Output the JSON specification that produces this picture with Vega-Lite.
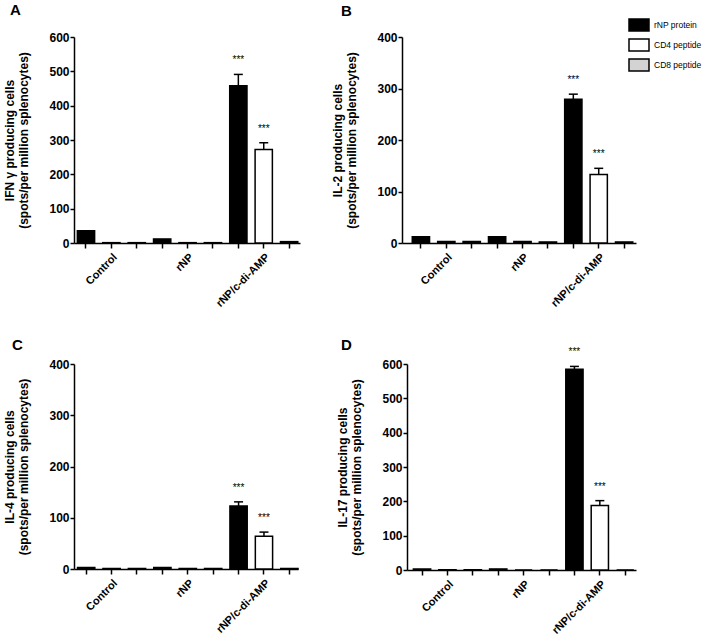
{
  "$schema": "https://vega.github.io/schema/vega-lite/v6.json",
  "padding": {"left": 3, "top": 3, "right": 5, "bottom": 0},
  "background": "white",
  "config": {
    "view": {"stroke": null},
    "font": "Liberation Sans",
    "axis": {"domainColor": "black", "domainWidth": 1.5, "tickColor": "black", "tickWidth": 1.5, "labelColor": "black", "labelFont": "Liberation Sans", "labelFontWeight": "bold", "titleFont": "Liberation Sans", "titleFontWeight": "bold", "titleColor": "black", "grid": false},
    "axisY": {"labelFontSize": 12, "tickSize": 4, "titleFontSize": 12, "labelPadding": 1, "titlePadding": 18, "labelOverlap": false},
    "axisX": {"labelFontSize": 11, "tickSize": 5, "labelAngle": -45, "labelPadding": 3},
    "title": {"font": "Liberation Sans", "fontSize": 15, "fontWeight": "bold", "anchor": "start", "frame": "group", "color": "black"},
    "legend": {"labelFont": "Liberation Sans", "labelFontSize": 8.5, "labelColor": "black", "padding": 0}
  },
  "datasets": {
    "elispot": [
      {"panel": "A", "group": "Control", "series": "rNP protein", "mean": 36, "upper": 36, "sig": ""},
      {"panel": "A", "group": "Control", "series": "CD4 peptide", "mean": 1, "upper": 1, "sig": ""},
      {"panel": "A", "group": "Control", "series": "CD8 peptide", "mean": 1, "upper": 1, "sig": ""},
      {"panel": "A", "group": "rNP", "series": "rNP protein", "mean": 12, "upper": 12, "sig": ""},
      {"panel": "A", "group": "rNP", "series": "CD4 peptide", "mean": 1, "upper": 1, "sig": ""},
      {"panel": "A", "group": "rNP", "series": "CD8 peptide", "mean": 1, "upper": 1, "sig": ""},
      {"panel": "A", "group": "rNP/c-di-AMP", "series": "rNP protein", "mean": 458, "upper": 491, "sig": "***"},
      {"panel": "A", "group": "rNP/c-di-AMP", "series": "CD4 peptide", "mean": 272, "upper": 292, "sig": "***"},
      {"panel": "A", "group": "rNP/c-di-AMP", "series": "CD8 peptide", "mean": 4, "upper": 4, "sig": ""},
      {"panel": "B", "group": "Control", "series": "rNP protein", "mean": 12, "upper": 12, "sig": ""},
      {"panel": "B", "group": "Control", "series": "CD4 peptide", "mean": 3, "upper": 3, "sig": ""},
      {"panel": "B", "group": "Control", "series": "CD8 peptide", "mean": 3, "upper": 3, "sig": ""},
      {"panel": "B", "group": "rNP", "series": "rNP protein", "mean": 12, "upper": 12, "sig": ""},
      {"panel": "B", "group": "rNP", "series": "CD4 peptide", "mean": 3, "upper": 3, "sig": ""},
      {"panel": "B", "group": "rNP", "series": "CD8 peptide", "mean": 2, "upper": 2, "sig": ""},
      {"panel": "B", "group": "rNP/c-di-AMP", "series": "rNP protein", "mean": 279, "upper": 289, "sig": "***"},
      {"panel": "B", "group": "rNP/c-di-AMP", "series": "CD4 peptide", "mean": 133, "upper": 145, "sig": "***"},
      {"panel": "B", "group": "rNP/c-di-AMP", "series": "CD8 peptide", "mean": 2, "upper": 2, "sig": ""},
      {"panel": "C", "group": "Control", "series": "rNP protein", "mean": 3, "upper": 3, "sig": ""},
      {"panel": "C", "group": "Control", "series": "CD4 peptide", "mean": 1, "upper": 1, "sig": ""},
      {"panel": "C", "group": "Control", "series": "CD8 peptide", "mean": 1, "upper": 1, "sig": ""},
      {"panel": "C", "group": "rNP", "series": "rNP protein", "mean": 3, "upper": 3, "sig": ""},
      {"panel": "C", "group": "rNP", "series": "CD4 peptide", "mean": 1, "upper": 1, "sig": ""},
      {"panel": "C", "group": "rNP", "series": "CD8 peptide", "mean": 1, "upper": 1, "sig": ""},
      {"panel": "C", "group": "rNP/c-di-AMP", "series": "rNP protein", "mean": 123, "upper": 131, "sig": "***"},
      {"panel": "C", "group": "rNP/c-di-AMP", "series": "CD4 peptide", "mean": 64, "upper": 72, "sig": "***"},
      {"panel": "C", "group": "rNP/c-di-AMP", "series": "CD8 peptide", "mean": 1, "upper": 1, "sig": ""},
      {"panel": "D", "group": "Control", "series": "rNP protein", "mean": 3, "upper": 3, "sig": ""},
      {"panel": "D", "group": "Control", "series": "CD4 peptide", "mean": 1, "upper": 1, "sig": ""},
      {"panel": "D", "group": "Control", "series": "CD8 peptide", "mean": 1, "upper": 1, "sig": ""},
      {"panel": "D", "group": "rNP", "series": "rNP protein", "mean": 3, "upper": 3, "sig": ""},
      {"panel": "D", "group": "rNP", "series": "CD4 peptide", "mean": 0, "upper": 0, "sig": ""},
      {"panel": "D", "group": "rNP", "series": "CD8 peptide", "mean": 0, "upper": 0, "sig": ""},
      {"panel": "D", "group": "rNP/c-di-AMP", "series": "rNP protein", "mean": 585, "upper": 593, "sig": "***"},
      {"panel": "D", "group": "rNP/c-di-AMP", "series": "CD4 peptide", "mean": 188, "upper": 202, "sig": "***"},
      {"panel": "D", "group": "rNP/c-di-AMP", "series": "CD8 peptide", "mean": 0, "upper": 0, "sig": ""}
    ]
  },
  "data": {"name": "elispot"},
  "resolve": {"legend": {"fill": "independent"}, "scale": {"fill": "shared"}},
  "vconcat": [
    {
      "hconcat": [
        {
          "width": 226, "height": 206,
          "title": {"text": "A", "dx": -64, "offset": 13},
          "transform": [{"filter": "datum.panel == 'A'"}, {"calculate": "datum.group + '|' + datum.series", "as": "key"}],
          "encoding": {
            "x": {"field": "key", "type": "nominal", "title": null, "scale": {"domain": ["Control|rNP protein", "Control|CD4 peptide", "Control|CD8 peptide", "rNP|rNP protein", "rNP|CD4 peptide", "rNP|CD8 peptide", "rNP/c-di-AMP|rNP protein", "rNP/c-di-AMP|CD4 peptide", "rNP/c-di-AMP|CD8 peptide"], "paddingInner": 0.32, "paddingOuter": 0.11, "align": 0.6}, "axis": {"labelExpr": "indexof(datum.value, 'CD4 peptide') >= 0 ? split(datum.value, '|')[0] : ''"}},
            "y": {"field": "mean", "type": "quantitative", "scale": {"domain": [0, 600]}, "axis": {"values": [0, 100, 200, 300, 400, 500, 600], "title": ["IFN γ producing cells", "(spots/per million splenocytes)"]}}
          },
          "layer": [
            {"mark": {"type": "bar", "stroke": "black", "strokeWidth": 1.5}, "encoding": {"fill": {"field": "series", "type": "nominal", "scale": {"domain": ["rNP protein", "CD4 peptide", "CD8 peptide"], "range": ["black", "white", "#d3d3d3"]}, "legend": null}}},
            {"transform": [{"filter": "datum.upper > datum.mean"}], "mark": {"type": "rule", "color": "black", "strokeWidth": 1.5}, "encoding": {"y2": {"field": "upper"}}},
            {"transform": [{"filter": "datum.upper > datum.mean"}], "mark": {"type": "tick", "color": "black", "thickness": 1.5, "size": 9, "opacity": 1}, "encoding": {"y": {"field": "upper", "type": "quantitative", "axis": {"values": [0, 100, 200, 300, 400, 500, 600], "title": ["IFN γ producing cells", "(spots/per million splenocytes)"]}}}},
            {"mark": {"type": "text", "fontSize": 10, "dy": -14, "baseline": "middle", "color": "black"}, "encoding": {"y": {"field": "upper", "type": "quantitative", "axis": {"values": [0, 100, 200, 300, 400, 500, 600], "title": ["IFN γ producing cells", "(spots/per million splenocytes)"]}}, "text": {"field": "sig"}}}
          ]
        },
        {
          "width": 234, "height": 206,
          "title": {"text": "B", "dx": -61, "offset": -5},
          "transform": [{"filter": "datum.panel == 'B'"}, {"calculate": "datum.group + '|' + datum.series", "as": "key"}],
          "encoding": {
            "x": {"field": "key", "type": "nominal", "title": null, "scale": {"domain": ["Control|rNP protein", "Control|CD4 peptide", "Control|CD8 peptide", "rNP|rNP protein", "rNP|CD4 peptide", "rNP|CD8 peptide", "rNP/c-di-AMP|rNP protein", "rNP/c-di-AMP|CD4 peptide", "rNP/c-di-AMP|CD8 peptide"], "paddingInner": 0.32, "paddingOuter": 0.266, "align": 0.76}, "axis": {"labelExpr": "indexof(datum.value, 'CD4 peptide') >= 0 ? split(datum.value, '|')[0] : ''"}},
            "y": {"field": "mean", "type": "quantitative", "scale": {"domain": [0, 400]}, "axis": {"values": [0, 100, 200, 300, 400], "title": ["IL-2 producing cells", "(spots/per million splenocytes)"]}}
          },
          "layer": [
            {"mark": {"type": "bar", "stroke": "black", "strokeWidth": 1.5}, "encoding": {"fill": {"field": "series", "type": "nominal", "title": null, "scale": {"domain": ["rNP protein", "CD4 peptide", "CD8 peptide"], "range": ["black", "white", "#d3d3d3"]}, "legend": {"orient": "none", "legendX": 226, "legendY": -23, "symbolType": "M-1,-0.6H1V0.6H-1Z", "symbolSize": 400, "symbolStrokeColor": "black", "symbolStrokeWidth": 1.5, "symbolFillColor": "white", "labelOffset": 4, "rowPadding": 0}}}},
            {"transform": [{"filter": "datum.upper > datum.mean"}], "mark": {"type": "rule", "color": "black", "strokeWidth": 1.5}, "encoding": {"y2": {"field": "upper"}}},
            {"transform": [{"filter": "datum.upper > datum.mean"}], "mark": {"type": "tick", "color": "black", "thickness": 1.5, "size": 9, "opacity": 1}, "encoding": {"y": {"field": "upper", "type": "quantitative", "axis": {"values": [0, 100, 200, 300, 400], "title": ["IL-2 producing cells", "(spots/per million splenocytes)"]}}}},
            {"mark": {"type": "text", "fontSize": 10, "dy": -14, "baseline": "middle", "color": "black"}, "encoding": {"y": {"field": "upper", "type": "quantitative", "axis": {"values": [0, 100, 200, 300, 400], "title": ["IL-2 producing cells", "(spots/per million splenocytes)"]}}, "text": {"field": "sig"}}}
          ]
        }
      ],
      "spacing": 31,
      "resolve": {"legend": {"fill": "independent"}, "scale": {"fill": "shared"}}
    },
    {
      "hconcat": [
        {
          "width": 224, "height": 205,
          "title": {"text": "C", "dx": -62, "offset": 5},
          "transform": [{"filter": "datum.panel == 'C'"}, {"calculate": "datum.group + '|' + datum.series", "as": "key"}],
          "encoding": {
            "x": {"field": "key", "type": "nominal", "title": null, "scale": {"domain": ["Control|rNP protein", "Control|CD4 peptide", "Control|CD8 peptide", "rNP|rNP protein", "rNP|CD4 peptide", "rNP|CD8 peptide", "rNP/c-di-AMP|rNP protein", "rNP/c-di-AMP|CD4 peptide", "rNP/c-di-AMP|CD8 peptide"], "paddingInner": 0.32, "paddingOuter": 0.07, "align": 1}, "axis": {"labelExpr": "indexof(datum.value, 'CD4 peptide') >= 0 ? split(datum.value, '|')[0] : ''"}},
            "y": {"field": "mean", "type": "quantitative", "scale": {"domain": [0, 400]}, "axis": {"values": [0, 100, 200, 300, 400], "title": ["IL-4 producing cells", "(spots/per million splenocytes)"]}}
          },
          "layer": [
            {"mark": {"type": "bar", "stroke": "black", "strokeWidth": 1.5}, "encoding": {"fill": {"field": "series", "type": "nominal", "scale": {"domain": ["rNP protein", "CD4 peptide", "CD8 peptide"], "range": ["black", "white", "#d3d3d3"]}, "legend": null}}},
            {"transform": [{"filter": "datum.upper > datum.mean"}], "mark": {"type": "rule", "color": "black", "strokeWidth": 1.5}, "encoding": {"y2": {"field": "upper"}}},
            {"transform": [{"filter": "datum.upper > datum.mean"}], "mark": {"type": "tick", "color": "black", "thickness": 1.5, "size": 9, "opacity": 1}, "encoding": {"y": {"field": "upper", "type": "quantitative", "axis": {"values": [0, 100, 200, 300, 400], "title": ["IL-4 producing cells", "(spots/per million splenocytes)"]}}}},
            {"mark": {"type": "text", "fontSize": 10, "dy": -14, "baseline": "middle", "color": "black"}, "encoding": {"y": {"field": "upper", "type": "quantitative", "axis": {"values": [0, 100, 200, 300, 400], "title": ["IL-4 producing cells", "(spots/per million splenocytes)"]}}, "text": {"field": "sig"}}}
          ]
        },
        {
          "width": 229, "height": 206,
          "title": {"text": "D", "dx": -66, "offset": -6},
          "transform": [{"filter": "datum.panel == 'D'"}, {"calculate": "datum.group + '|' + datum.series", "as": "key"}],
          "encoding": {
            "x": {"field": "key", "type": "nominal", "title": null, "scale": {"domain": ["Control|rNP protein", "Control|CD4 peptide", "Control|CD8 peptide", "rNP|rNP protein", "rNP|CD4 peptide", "rNP|CD8 peptide", "rNP/c-di-AMP|rNP protein", "rNP/c-di-AMP|CD4 peptide", "rNP/c-di-AMP|CD8 peptide"], "paddingInner": 0.32, "paddingOuter": 0.168, "align": 0.75}, "axis": {"labelExpr": "indexof(datum.value, 'CD4 peptide') >= 0 ? split(datum.value, '|')[0] : ''"}},
            "y": {"field": "mean", "type": "quantitative", "scale": {"domain": [0, 600]}, "axis": {"values": [0, 100, 200, 300, 400, 500, 600], "title": ["IL-17 producing cells", "(spots/per million splenocytes)"]}}
          },
          "layer": [
            {"mark": {"type": "bar", "stroke": "black", "strokeWidth": 1.5}, "encoding": {"fill": {"field": "series", "type": "nominal", "scale": {"domain": ["rNP protein", "CD4 peptide", "CD8 peptide"], "range": ["black", "white", "#d3d3d3"]}, "legend": null}}},
            {"transform": [{"filter": "datum.upper > datum.mean"}], "mark": {"type": "rule", "color": "black", "strokeWidth": 1.5}, "encoding": {"y2": {"field": "upper"}}},
            {"transform": [{"filter": "datum.upper > datum.mean"}], "mark": {"type": "tick", "color": "black", "thickness": 1.5, "size": 9, "opacity": 1}, "encoding": {"y": {"field": "upper", "type": "quantitative", "axis": {"values": [0, 100, 200, 300, 400, 500, 600], "title": ["IL-17 producing cells", "(spots/per million splenocytes)"]}}}},
            {"mark": {"type": "text", "fontSize": 10, "dy": -14, "baseline": "middle", "color": "black"}, "encoding": {"y": {"field": "upper", "type": "quantitative", "axis": {"values": [0, 100, 200, 300, 400, 500, 600], "title": ["IL-17 producing cells", "(spots/per million splenocytes)"]}}, "text": {"field": "sig"}}}
          ]
        }
      ],
      "spacing": 37,
      "resolve": {"legend": {"fill": "independent"}, "scale": {"fill": "shared"}}
    }
  ],
  "spacing": 29
}
